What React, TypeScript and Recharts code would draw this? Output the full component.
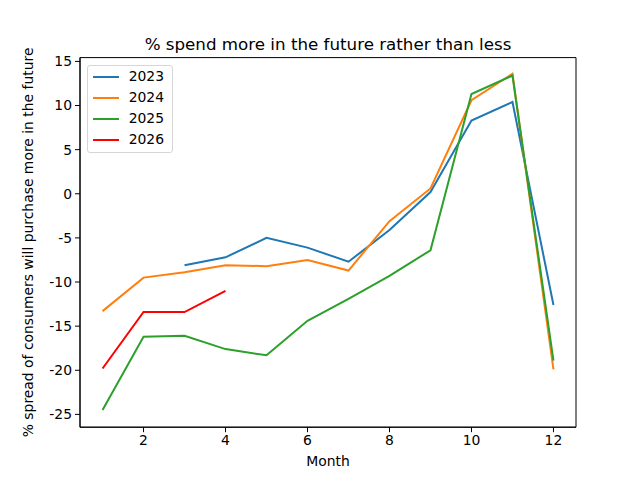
import React from "react";
import {
  LineChart,
  Line,
  XAxis,
  YAxis,
  ReferenceArea,
  Legend,
} from "recharts";

const months = [1, 2, 3, 4, 5, 6, 7, 8, 9, 10, 11, 12];
const y2023 = [null, null, -8.1, -7.2, -5.0, -6.1, -7.7, -4.1, 0.2, 8.3, 10.4, -12.6];
const y2024 = [-13.3, -9.5, -8.9, -8.1, -8.2, -7.5, -8.7, -3.1, 0.6, 10.6, 13.6, -19.9];
const y2025 = [-24.5, -16.2, -16.1, -17.6, -18.3, -14.4, -11.9, -9.3, -6.4, 11.3, 13.4, -18.9];
const y2026 = [-19.8, -13.4, -13.4, -11.0, null, null, null, null, null, null, null, null];

const xTicks = [2, 4, 6, 8, 10, 12];
const yTicks = [-25, -20, -15, -10, -5, 0, 5, 10, 15];

const series = [
  { key: "2023", values: y2023, color: "#1f77b4" },
  { key: "2024", values: y2024, color: "#ff7f0e" },
  { key: "2025", values: y2025, color: "#2ca02c" },
  { key: "2026", values: y2026, color: "#ff0000" },
];

const data = months.map((m, i) => {
  const row: any = { month: m };
  series.forEach((s) => {
    row[s.key] = s.values[i];
  });
  return row;
});

const FONT = "'DejaVu Sans', sans-serif";
const X_MIN = 0.45;
const X_MAX = 12.55;
const Y_MIN = -26.45;
const Y_MAX = 15.43;

const LegendBox = () => (
  <div
    style={{
      boxSizing: "border-box",
      border: "1px solid #d6d6d6",
      borderRadius: 3,
      background: "white",
      padding: "0 8px 0 5px",
      fontFamily: FONT,
      fontSize: 13.9,
      width: 86,
      height: 88,
    }}
  >
    {series.map((s) => (
      <div
        key={s.key}
        style={{ display: "flex", alignItems: "center", height: 21, lineHeight: "21px" }}
      >
        <div style={{ width: 29, height: 2, background: s.color, marginRight: 10 }} />
        <span>{s.key}</span>
      </div>
    ))}
  </div>
);

export default function App() {
  return (
    <div style={{ position: "absolute", left: 0, top: 0, width: 640, height: 480, background: "white" }}>
      <div
        style={{
          position: "absolute",
          left: 80,
          width: 496,
          top: 34,
          lineHeight: "20px",
          textAlign: "center",
          fontFamily: FONT,
          fontSize: 16.7,
          color: "#000",
        }}
      >
        % spend more in the future rather than less
      </div>
      <LineChart
        width={640}
        height={480}
        data={data}
        margin={{ top: 57.6, right: 64, bottom: 12.8, left: 20 }}
      >
        <XAxis
          dataKey="month"
          type="number"
          domain={[X_MIN, X_MAX]}
          ticks={xTicks}
          allowDataOverflow
          height={40}
          stroke="#000"
          tickSize={5}
          tickMargin={3}
          tick={{ fill: "#000", fontSize: 13.9, fontFamily: FONT }}
          label={{
            value: "Month",
            position: "insideBottom",
            offset: 1,
            fill: "#000",
            fontSize: 13.9,
            fontFamily: FONT,
          }}
        />
        <YAxis
          type="number"
          domain={[Y_MIN, Y_MAX]}
          ticks={yTicks}
          allowDataOverflow
          width={60}
          stroke="#000"
          tickSize={5}
          tickMargin={3}
          tick={{ fill: "#000", fontSize: 13.9, fontFamily: FONT }}
          label={{
            value: "% spread of consumers will purchase more in the future",
            angle: -90,
            position: "insideLeft",
            offset: 8,
            style: { textAnchor: "middle" },
            fill: "#000",
            fontSize: 13.9,
            fontFamily: FONT,
          }}
        />
        <ReferenceArea
          x1={X_MIN}
          x2={X_MAX}
          y1={Y_MIN}
          y2={Y_MAX}
          fill="none"
          stroke="#000"
          strokeWidth={1}
          ifOverflow="visible"
        />
        {series.map((s) => (
          <Line
            key={s.key}
            dataKey={s.key}
            type="linear"
            stroke={s.color}
            strokeWidth={2}
            dot={false}
            activeDot={false}
            isAnimationActive={false}
          />
        ))}
        <Legend
          layout="horizontal"
          verticalAlign="middle"
          align="center"
          content={<LegendBox />}
          wrapperStyle={{ position: "absolute", left: 87, top: 65, width: "auto" }}
        />
      </LineChart>
    </div>
  );
}
